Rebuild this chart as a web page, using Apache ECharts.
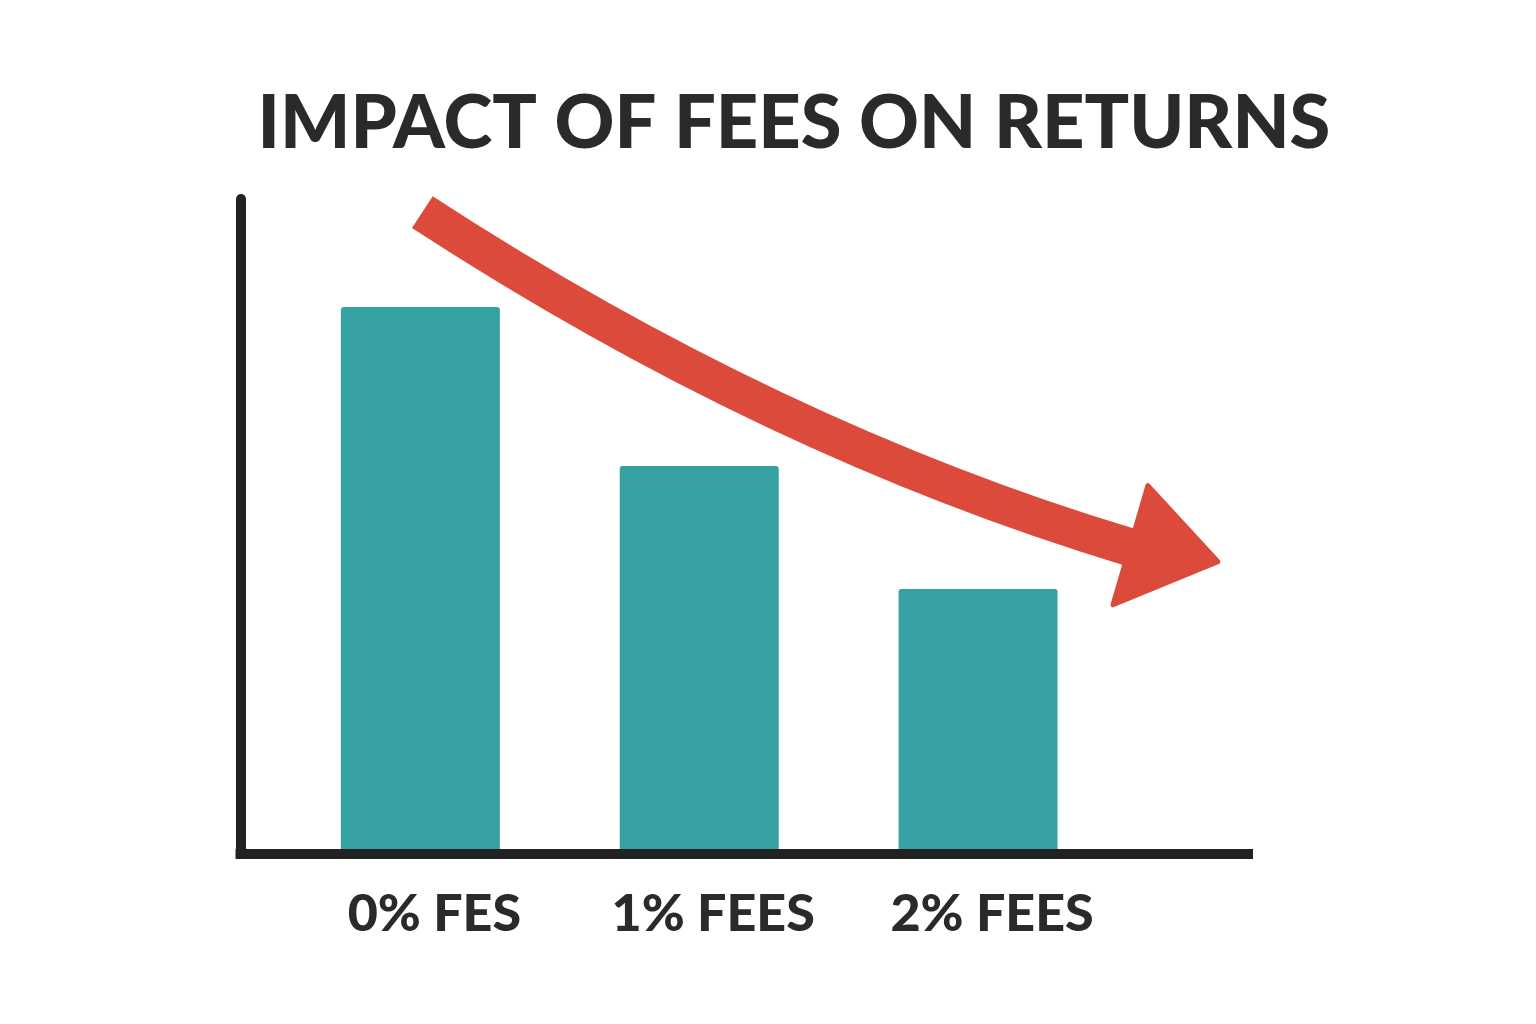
<!DOCTYPE html>
<html>
<head>
<meta charset="utf-8">
<script src="https://cdn.jsdelivr.net/npm/echarts@6/dist/echarts.min.js"></script>
<style>
	html, body { margin: 0; padding: 0; background: #ffffff; }
	#main { width: 1536px; height: 1024px; }
</style>
</head>
<body>
<div id="main"></div>
<script>
var categories = [ '0% FES', '1% FEES', '2% FEES' ];
var returns = [ 83.5, 59.2, 40.4 ];
var catPositions = [ 0, 1, 2 ];

(function() {
	var myChart = echarts.init(document.getElementById('main'));
	var barData = [];
	for (var i = 0; i < returns.length; i++) {
		barData.push([ catPositions[i], returns[i] ]);
	}
	var option = {
		backgroundColor : '#ffffff',
		animation : false,
		title : {
			text : 'IMPACT OF FEES ON RETURNS',
			left : 789,
			top : 82,
			textAlign : 'center',
			textStyle : {
				fontFamily : 'Lato',
				fontWeight : 900,
				fontSize : 74,
				color : '#2a2a28'
			}
		},
		grid : {
			left : 240.5,
			right : 288,
			top : 199,
			bottom : 170.5
		},
		xAxis : {
			type : 'value',
			min : -0.645,
			max : 2.968,
			z : 5,
			splitLine : { show : false },
			axisTick : { show : false },
			axisLine : {
				show : true,
				onZero : false,
				lineStyle : { color : '#222222', width : 10, cap : 'square' }
			},
			axisLabel : {
				customValues : catPositions,
				margin : 35,
				padding : [ 0, 0, 0, 28 ],
				fontFamily : 'Lato',
				fontWeight : 900,
				fontSize : 52,
				color : '#2a2a28',
				formatter : function(v) {
					var idx = catPositions.indexOf(Math.round(v));
					return idx >= 0 ? categories[idx] : '';
				}
			}
		},
		yAxis : {
			type : 'value',
			min : 0,
			max : 100,
			z : 5,
			splitLine : { show : false },
			axisTick : { show : false },
			axisLabel : { show : false },
			axisLine : {
				show : true,
				onZero : false,
				lineStyle : { color : '#222222', width : 10 }
			}
		},
		series : [ {
			name : 'Returns',
			type : 'bar',
			z : 1,
			barWidth : 159,
			itemStyle : {
				color : '#35a1a2',
				borderRadius : [ 3, 3, 0, 0 ]
			},
			data : barData
		} ]
	};
	myChart.setOption(option);

	// decorative downward trend arrow, placed in data units
	function px(p) {
		return myChart.convertToPixel({ xAxisIndex : 0, yAxisIndex : 0 }, p);
	}
	var p0 = px([ 0.007, 98.0 ]);
	var p1 = px([ 1.258, 63.3 ]);
	var p2 = px([ 2.545, 46.8 ]);
	var tip = px([ 2.860, 44.6 ]);
	var cTop = px([ 2.609, 56.2 ]);
	var cBot = px([ 2.484, 38.0 ]);
	myChart.setOption({
		graphic : [ {
			type : 'bezierCurve',
			z : 10,
			shape : {
				x1 : p0[0], y1 : p0[1],
				cpx1 : p1[0], cpy1 : p1[1],
				x2 : p2[0], y2 : p2[1]
			},
			style : {
				fill : null,
				stroke : '#db4a3a',
				lineWidth : 38,
				lineCap : 'butt'
			}
		}, {
			type : 'polygon',
			z : 10,
			shape : {
				points : [ cTop, tip, cBot ]
			},
			style : {
				fill : '#db4a3a',
				stroke : '#db4a3a',
				lineWidth : 5,
				lineJoin : 'round'
			}
		} ]
	});
})();
</script>
</body>
</html>
